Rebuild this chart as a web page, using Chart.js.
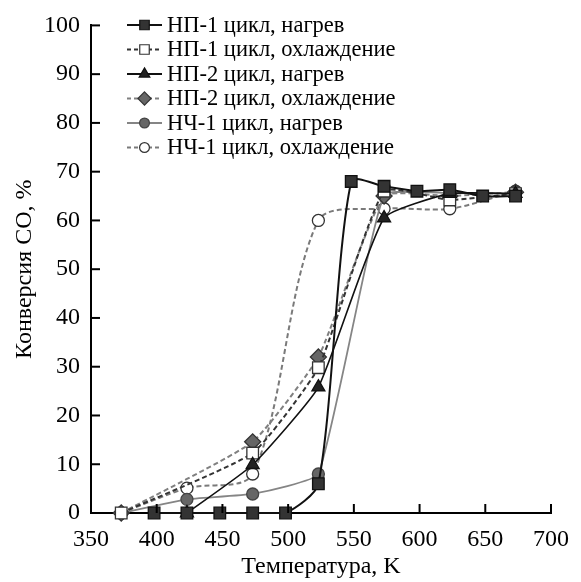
<!DOCTYPE html>
<html>
<head>
<meta charset="utf-8">
<script src="https://cdn.jsdelivr.net/npm/chart.js@4/dist/chart.umd.min.js"></script>
<style>
html,body{margin:0;padding:0;background:#fff;}
#wrap{width:581px;height:582px;position:relative;}
#fontwarm{position:absolute;left:-9999px;top:0;font:22px "Liberation Serif";}
</style>
</head>
<body>
<div id="fontwarm">НП-1 цикл 0123456789 Температура Конверсия</div>
<div id="wrap"><canvas id="c" width="581" height="582"></canvas></div>
<script>
// ---- data ----
const seriesNames = [
  "НП-1 цикл, нагрев",
  "НП-1 цикл, охлаждение",
  "НП-2 цикл, нагрев",
  "НП-2 цикл, охлаждение",
  "НЧ-1 цикл, нагрев",
  "НЧ-1 цикл, охлаждение"
];
const np1HeatT = [398, 423, 448, 473, 498, 523, 548, 573, 598, 623, 648, 673];
const np1HeatY = [0, 0, 0, 0, 0, 6, 68, 67, 66, 66.3, 65, 65];
const np1CoolT = [373, 473, 523, 573, 623, 673];
const np1CoolY = [0, 12.3, 29.8, 66, 64.2, 65.5];
const np2HeatT = [423, 473, 523, 573, 623, 673];
const np2HeatY = [0, 9.9, 25.8, 60.5, 65.5, 65.5];
const np2CoolT = [373, 473, 523, 573, 623, 673];
const np2CoolY = [0, 14.6, 32, 65, 65, 65.8];
const nch1HeatT = [373, 423, 473, 523, 573, 623, 673];
const nch1HeatY = [0, 2.8, 3.9, 8, 65.2, 65.6, 65.5];
const nch1CoolT = [373, 423, 473, 523, 573, 623, 673];
const nch1CoolY = [0, 5.1, 8, 60, 62.4, 62.4, 66];
const xTicks = [350, 400, 450, 500, 550, 600, 650, 700];
const yTicks = [0, 10, 20, 30, 40, 50, 60, 70, 80, 90, 100];
const xTitle = "Температура, K";
const yTitle = "Конверсия СО, %";

// ---- styles ----
const styles = [
  {line:'#111', dash:[], mk:'rect', r:8.2, fill:'#333', stroke:'#111', w:2, t:0.25},
  {line:'#333', dash:[5,3], mk:'rect', r:8.2, fill:'#fff', stroke:'#333', w:2, t:0.15},
  {line:'#111', dash:[], mk:'triangle', r:7.5, fill:'#222', stroke:'#111', w:1.6, t:0.15},
  {line:'#808080', dash:[5,3], mk:'rectRot', r:8, fill:'#666', stroke:'#333', w:2, t:0.15},
  {line:'#858585', dash:[], mk:'circle', r:6, fill:'#666', stroke:'#444', w:1.8, t:0.12},
  {line:'#7a7a7a', dash:[5,3], mk:'circle', r:6, fill:'#fff', stroke:'#333', w:2, t:0.3}
];
const pairs = [[np1HeatT,np1HeatY],[np1CoolT,np1CoolY],[np2HeatT,np2HeatY],[np2CoolT,np2CoolY],[nch1HeatT,nch1HeatY],[nch1CoolT,nch1CoolY]];
const drawOrder = [5,4,3,1,2,0];

const datasets = drawOrder.map((i, k) => {
  const s = styles[i];
  return {
    label: seriesNames[i],
    data: pairs[i][0].map((t, j) => ({x: t, y: pairs[i][1][j]})),
    borderColor: s.line,
    borderWidth: s.w,
    borderDash: s.dash,
    pointStyle: s.mk,
    pointRadius: s.r,
    pointBackgroundColor: s.fill,
    pointBorderColor: s.stroke,
    pointBorderWidth: 1.3,
    tension: s.t,
    fill: false,
    clip: false,
    order: 10 - k
  };
});

const FONT = 'Liberation Serif';
Chart.defaults.font.family = FONT;

function drawMarker(ctx, type, x, y, r, fill, stroke) {
  ctx.save();
  ctx.fillStyle = fill; ctx.strokeStyle = stroke; ctx.lineWidth = 1.2; ctx.setLineDash([]);
  ctx.beginPath();
  if (type === 'rect') { const s = r * Math.SQRT1_2; ctx.rect(x - s, y - s, 2*s, 2*s); }
  else if (type === 'triangle') { ctx.moveTo(x, y - r); ctx.lineTo(x + r*0.866, y + r*0.5); ctx.lineTo(x - r*0.866, y + r*0.5); ctx.closePath(); }
  else if (type === 'rectRot') { ctx.moveTo(x, y - r); ctx.lineTo(x + r, y); ctx.lineTo(x, y + r); ctx.lineTo(x - r, y); ctx.closePath(); }
  else { ctx.arc(x, y, r, 0, Math.PI*2); }
  ctx.fill(); ctx.stroke();
  ctx.restore();
}

const decor = {
  id: 'decor',
  afterDraw(chart) {
    const ctx = chart.ctx;
    const xs = chart.scales.x, ys = chart.scales.y;
    const left = chart.chartArea.left, bottom = chart.chartArea.bottom;
    ctx.save();
    ctx.strokeStyle = '#000'; ctx.lineWidth = 2; ctx.setLineDash([]);
    yTicks.forEach(v => { if (v === 0) return; const py = ys.getPixelForValue(v); ctx.beginPath(); ctx.moveTo(left, py); ctx.lineTo(left + 9, py); ctx.stroke(); });
    xTicks.forEach(v => { if (v === 350) return; const px = xs.getPixelForValue(v); ctx.beginPath(); ctx.moveTo(px, bottom); ctx.lineTo(px, bottom - 9); ctx.stroke(); });
    // legend
    const lx0 = 127, lx1 = 162, tx = 167, y0 = 25, dy = 24.5;
    seriesNames.forEach((name, i) => {
      const s = styles[i];
      const y = y0 + i*dy;
      ctx.save();
      ctx.strokeStyle = s.line; ctx.lineWidth = 2; ctx.setLineDash(s.dash.length ? [4,3] : []);
      ctx.beginPath(); ctx.moveTo(lx0, y); ctx.lineTo(lx1, y); ctx.stroke();
      ctx.restore();
      drawMarker(ctx, s.mk, (lx0+lx1)/2, y, s.r*0.82, s.fill, s.stroke);
      ctx.fillStyle = '#000'; ctx.font = '22.5px Liberation Serif'; ctx.textBaseline = 'middle'; ctx.textAlign = 'left';
      ctx.fillText(name, tx, y + 1);
    });
    ctx.restore();
  }
};

new Chart(document.getElementById('c'), {
  type: 'line',
  data: {datasets},
  options: {
    responsive: false,
    animation: false,
    events: [],
    layout: {padding: {top: 23, right: 21, left: 0, bottom: 0}},
    plugins: {legend: {display: false}, tooltip: {enabled: false}},
    scales: {
      x: {
        type: 'linear', min: 350, max: 700,
        afterFit: s => { s.height = 69; },
        afterBuildTicks: s => { s.ticks = xTicks.map(v => ({value: v})); },
        grid: {display: true, drawOnChartArea: false, drawTicks: false},
        border: {display: true, color: '#000', width: 2},
        ticks: {color: '#000', font: {family: FONT, size: 24}, padding: 12, maxRotation: 0, autoSkip: false},
        title: {display: true, text: xTitle, color: '#000', font: {family: FONT, size: 24}, padding: {top: 0, bottom: 1}}
      },
      y: {
        type: 'linear', min: 0, max: 100,
        afterFit: s => { s.width = 91; },
        afterBuildTicks: s => { s.ticks = yTicks.map(v => ({value: v})); },
        grid: {display: true, drawOnChartArea: false, drawTicks: false},
        border: {display: true, color: '#000', width: 2},
        ticks: {color: '#000', font: {family: FONT, size: 24}, padding: 11, autoSkip: false},
        title: {display: true, text: yTitle, color: '#000', font: {family: FONT, size: 24}, padding: {top: 10, bottom: 0}}
      }
    }
  },
  plugins: [decor]
});
</script>
</body>
</html>
